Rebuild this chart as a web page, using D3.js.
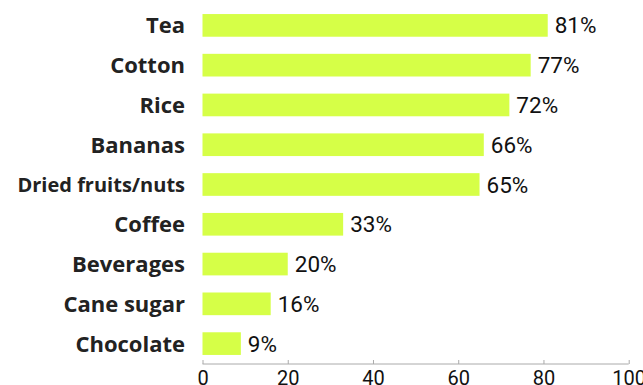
<!DOCTYPE html>
<html><head><meta charset="utf-8">
<script src="https://cdn.jsdelivr.net/npm/d3@7"></script>
<style>body{margin:0;background:#fff;}svg{display:block;}</style>
</head><body>
<svg id="c" width="643" height="385"></svg>
<script>
const categories = ["Tea","Cotton","Rice","Bananas","Dried fruits/nuts","Coffee","Beverages","Cane sugar","Chocolate"];
const values = [81,77,72,66,65,33,20,16,9];
const tickValues = [0,20,40,60,80,100];

const svg = d3.select("#c");
const x = d3.scaleLinear().domain([0,100]).range([202.5,628.7]);
const y = d3.scaleBand().domain(categories).range([5.5,363.5]).paddingInner(0.43).paddingOuter(0.215);

svg.selectAll("rect.bar").data(categories).join("rect")
  .attr("class","bar")
  .attr("x", x(0))
  .attr("y", d=>y(d))
  .attr("width", (d,i)=>x(values[i])-x(0))
  .attr("height", y.bandwidth())
  .attr("fill","#d6ff47");

svg.selectAll("text.val").data(categories).join("text")
  .attr("class","val")
  .attr("x",(d,i)=>x(values[i])+7)
  .attr("y",d=>y(d)+y.bandwidth()/2)
  .attr("dy","0.36em")
  .attr("font-family","Roboto, sans-serif")
  .attr("font-weight",400)
  .attr("font-size",22.5)
  .attr("fill","#111")
  .text((d,i)=>values[i]+"%");

svg.selectAll("text.cat").data(categories).join("text")
  .attr("class","cat")
  .attr("x",185)
  .attr("y",d=>y(d)+y.bandwidth()/2)
  .attr("dy","0.36em")
  .attr("text-anchor","end")
  .attr("font-family","'Open Sans', sans-serif")
  .attr("font-weight",700)
  .attr("font-size",d=>d==="Dried fruits/nuts"?20:22)
  .attr("fill","#222")
  .text(d=>d);

const axis = d3.axisBottom(x).tickValues(tickValues).tickSize(-4).tickPadding(7).tickFormat(d3.format("d"));
const g = svg.append("g").attr("transform","translate(0,364)").call(axis);
g.select(".domain").attr("stroke","#aaa").attr("d",`M${x(0)},0H${x(100)}`);
g.selectAll(".tick line").attr("stroke","#aaa");
g.selectAll(".tick text").attr("font-family","Roboto, sans-serif").attr("font-weight",400).attr("font-size",20).attr("fill","#111");
</script>
</body></html>
